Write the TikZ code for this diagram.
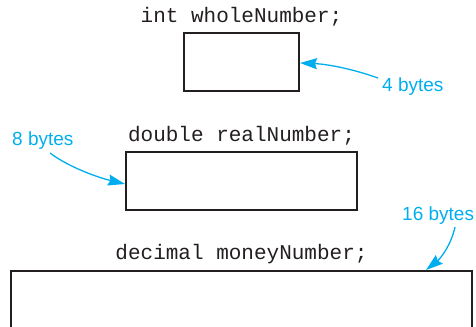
\documentclass[tikz,border=0pt]{standalone}
\usepackage{fontspec}
\setmainfont{Liberation Sans}
\newfontfamily\codefont{Liberation Mono}
\usetikzlibrary{arrows.meta}
\definecolor{labcyan}{RGB}{0,174,239}
\definecolor{boxline}{RGB}{35,31,32}
\begin{document}
\begin{tikzpicture}[x=1bp,y=-1bp,
  memcell/.style={draw=boxline,line width=1.1bp},
  codetext/.style={font=\codefont\fontsize{21bp}{24bp}\selectfont,anchor=base,inner sep=0pt,text=boxline},
  bytelabel/.style={font=\fontsize{19bp}{22bp}\selectfont,anchor=base west,inner sep=0pt,text=labcyan},
  pointer/.style={draw=labcyan,line width=1.3bp,-{Stealth[length=17bp,width=11bp,inset=2bp]}}]
\useasboundingbox (0,0) rectangle (476,326);
\begin{scope}
\clip (0,0) rectangle (476,326);
% boxes
\draw[memcell] (184,33) rectangle (299,91);
\draw[memcell] (126,152) rectangle (357,210);
\draw[memcell] (11,271) rectangle (472,345);
\end{scope}
\coordinate (intR) at (300,63);
\coordinate (dblL) at (125,184);
\coordinate (decT) at (426,270);
% code texts
\node[codetext] (intT) at (241.5,22) {int wholeNumber;};
\node[codetext] (dblT) at (241.5,141) {double realNumber;};
\node[codetext] (decTx) at (241.5,259) {decimal moneyNumber;};
% labels
\node[bytelabel] (l4) at (382,91) {4 bytes};
\node[bytelabel] (l8) at (12,145) {8 bytes};
\node[bytelabel] (l16) at (402,220) {16 bytes};
\coordinate (s4) at (378,78);
\coordinate (s8) at (50,153);
\coordinate (s16) at (455,227);
% arrows
\draw[pointer] (s4) .. controls (350,68) and (325,64) .. (intR);
\draw[pointer] (s8) .. controls (70,168) and (100,178) .. (dblL);
\draw[pointer] (s16) .. controls (451,245) and (441,258) .. (decT);
\end{tikzpicture}
\end{document}
